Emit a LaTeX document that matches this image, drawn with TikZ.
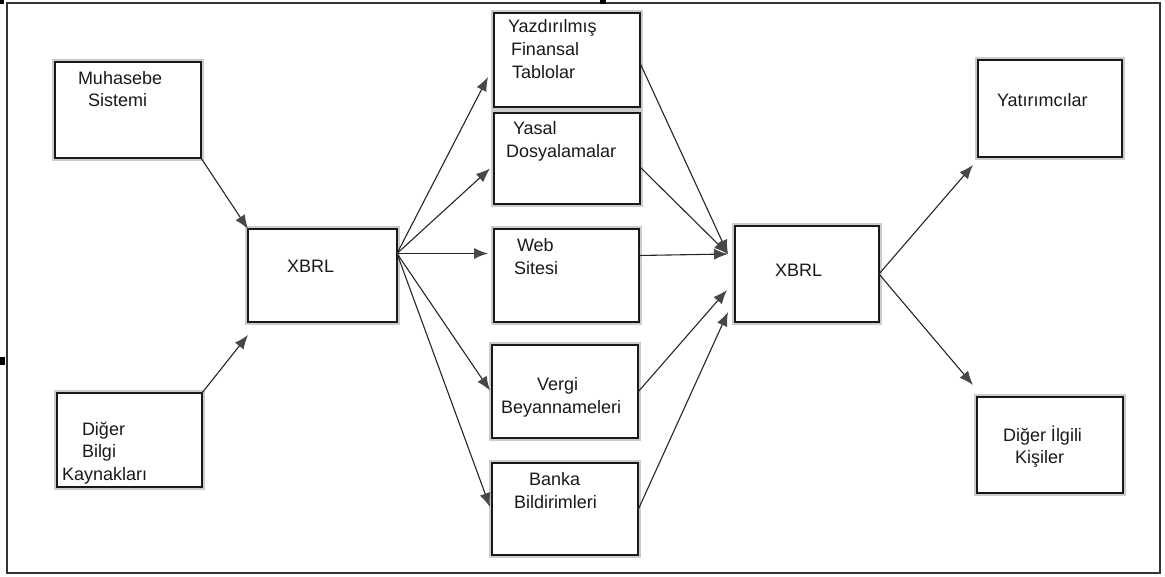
\documentclass[tikz,border=0pt]{standalone}
\usepackage{fontspec}
\setmainfont{Liberation Sans}
\usetikzlibrary{arrows.meta}

\tikzset{
  box/.style={draw=black!90, line width=2pt, inner sep=0pt, outer sep=0pt,
    fill=white, preaction={draw=black!20, line width=5.5pt}},
  lbl/.style={anchor=base west, inner sep=0pt, outer sep=0pt,
    font=\fontsize{18}{23}\selectfont, text=black!90},
  conn/.style={draw=black!85, line width=1.1pt,
    -{Latex[length=14pt, width=11pt, color=black!72]}},
  frame/.style={draw=black!80, line width=1.4pt}
}

\begin{document}
\begin{tikzpicture}[x=1pt, y=-1pt]
  \useasboundingbox (0,0) rectangle (1165,577);
  \fill[white] (0,0) rectangle (1165,577);

  % outer frame and small marks at the edge
  \draw[frame] (7,3) rectangle (1160,573);
  \fill[black] (0,0) rectangle (4,4);
  \fill[black] (600,0) rectangle (606,4);
  \fill[black] (0,357) rectangle (5,365);

  % source boxes
  \node[box, minimum width=146pt, minimum height=96pt] (ms) at (128,110) {};
  \node[box, minimum width=145pt, minimum height=94pt] (dk) at (129.5,440) {};
  % first XBRL box
  \node[box, minimum width=149pt, minimum height=93pt] (xl) at (322.5,275.5) {};
  % report boxes
  \node[box, minimum width=146pt, minimum height=94pt] (yf) at (567,60) {};
  \node[box, minimum width=146pt, minimum height=91pt] (ys) at (567,158.5) {};
  \node[box, minimum width=145pt, minimum height=93pt] (ws) at (566.5,275.5) {};
  \node[box, minimum width=146pt, minimum height=93pt] (vb) at (565,391.5) {};
  \node[box, minimum width=146pt, minimum height=92pt] (bb) at (565,509) {};
  % second XBRL box
  \node[box, minimum width=144pt, minimum height=96pt] (xr) at (807,274) {};
  % users
  \node[box, minimum width=144pt, minimum height=97pt] (yt) at (1050,108.5) {};
  \node[box, minimum width=146pt, minimum height=96pt] (dl) at (1050,445) {};

  % labels
  \node[lbl] (ms1) at (78,85) {Muhasebe};
  \node[lbl] (ms2) at (88,107) {Sistemi};
  \node[lbl] (dk1) at (82,435) {Diğer};
  \node[lbl] (dk2) at (82,457) {Bilgi};
  \node[lbl] (dk3) at (62,480) {Kaynakları};
  \node[lbl] (xl1) at (287,273) {XBRL};
  \node[lbl] (yf1) at (508,33) {Yazdırılmış};
  \node[lbl] (yf2) at (511,56) {Finansal};
  \node[lbl] (yf3) at (512,79) {Tablolar};
  \node[lbl] (ys1) at (513,135) {Yasal};
  \node[lbl] (ys2) at (506,158) {Dosyalamalar};
  \node[lbl] (ws1) at (517,252) {Web};
  \node[lbl] (ws2) at (514,275) {Sitesi};
  \node[lbl] (vb1) at (537,390) {Vergi};
  \node[lbl] (vb2) at (501,413) {Beyannameleri};
  \node[lbl] (bb1) at (529,485) {Banka};
  \node[lbl] (bb2) at (514,508) {Bildirimleri};
  \node[lbl] (xr1) at (775,277) {XBRL};
  \node[lbl] (yt1) at (997,107) {Yatırımcılar};
  \node[lbl] (dl1) at (1003,441) {Diğer İlgili};
  \node[lbl] (dl2) at (1015,463) {Kişiler};

  % inputs to the first XBRL box
  \draw[conn] (ms.south east) -- (xl.north west);
  \draw[conn] (dk.north east) -- ([shift={(0,13)}]xl.south west);

  % fan out to the reports
  \coordinate (xo) at ([shift={(0,-22)}]xl.east);
  \draw[conn] (xo) -- ([shift={(-6,17)}]yf.west);
  \draw[conn] (xo) -- ([shift={(-4,10)}]ys.west);
  \draw[conn] (xo) -- ([shift={(-6,-22)}]ws.west);
  \draw[conn] (xo) -- ([shift={(-2,-1)}]vb.west);
  \draw[conn] (xo) -- ([shift={(-2,-2)}]bb.west);

  % reports into the second XBRL box
  \coordinate (xi) at ([shift={(-7,-20)}]xr.west);
  \draw[conn] ([shift={(0,3)}]yf.east) -- (xi);
  \draw[conn] ([shift={(0,8.5)}]ys.east) -- (xi);
  \draw[conn] ([shift={(0,-20)}]ws.east) -- (xi);
  \draw[conn] ([shift={(0,0.5)}]vb.east) -- ([shift={(-8,16)}]xr.west);
  \draw[conn] ([shift={(0,1)}]bb.east) -- ([shift={(-7,38)}]xr.west);

  % out to the users
  \draw[conn] (xr.east) -- ([shift={(-5,8)}]yt.south west);
  \draw[conn] (xr.east) -- ([shift={(-4,-12)}]dl.north west);
\end{tikzpicture}
\end{document}
